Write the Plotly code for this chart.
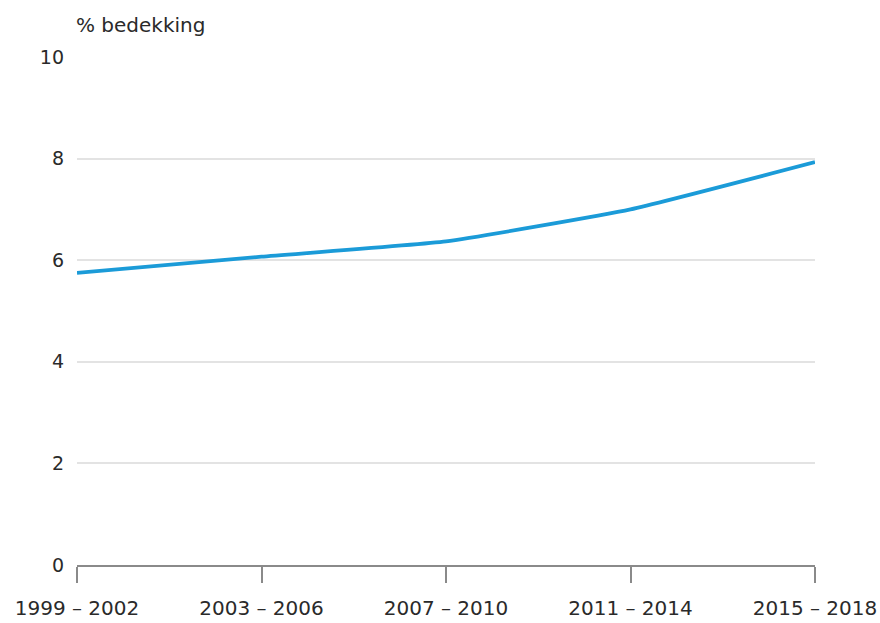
import plotly.graph_objects as go

periods = ["1999 – 2002", "2003 – 2006", "2007 – 2010", "2011 – 2014", "2015 – 2018"]
bedekking = [5.75, 6.07, 6.37, 7.0, 7.93]
y_ticks = [0, 2, 4, 6, 8, 10]
y_title = "% bedekking"

FONT = "DejaVu Sans"
TXT = "#2a2a2a"

fig = go.Figure()
fig.add_trace(go.Scatter(
    x=periods, y=bedekking, mode="lines",
    line=dict(color="#1b9bd8", width=3.8, shape="spline", smoothing=0.4),
    hoverinfo="skip", showlegend=False,
))

fig.update_layout(
    width=880, height=623,
    margin=dict(l=77, r=65, t=57, b=58, autoexpand=False),
    paper_bgcolor="white", plot_bgcolor="white",
    font=dict(family=FONT, size=20, color=TXT),
    xaxis=dict(
        type="category", range=[0, 4], automargin=False,
        showgrid=False, zeroline=False,
        showline=True, linecolor="#8a8a8a", linewidth=1.5,
        ticks="outside", ticklen=16, tickcolor="#8a8a8a", tickwidth=1.5,
        ticklabelstandoff=8,
        tickfont=dict(family=FONT, size=20, color=TXT),
    ),
    yaxis=dict(
        range=[0, 10], tickvals=y_ticks, automargin=False,
        showgrid=True, gridcolor="#e3e3e3", gridwidth=2,
        zeroline=False, showline=False, ticks="",
        ticklabelstandoff=12,
        tickfont=dict(family=FONT, size=19, color=TXT),
    ),
    annotations=[dict(
        text=y_title, xref="paper", yref="paper", x=0, y=1,
        xanchor="left", yanchor="bottom", yshift=18, xshift=-3, showarrow=False,
        font=dict(family=FONT, size=20, color=TXT),
    )],
)

fig.write_html("out.html")
